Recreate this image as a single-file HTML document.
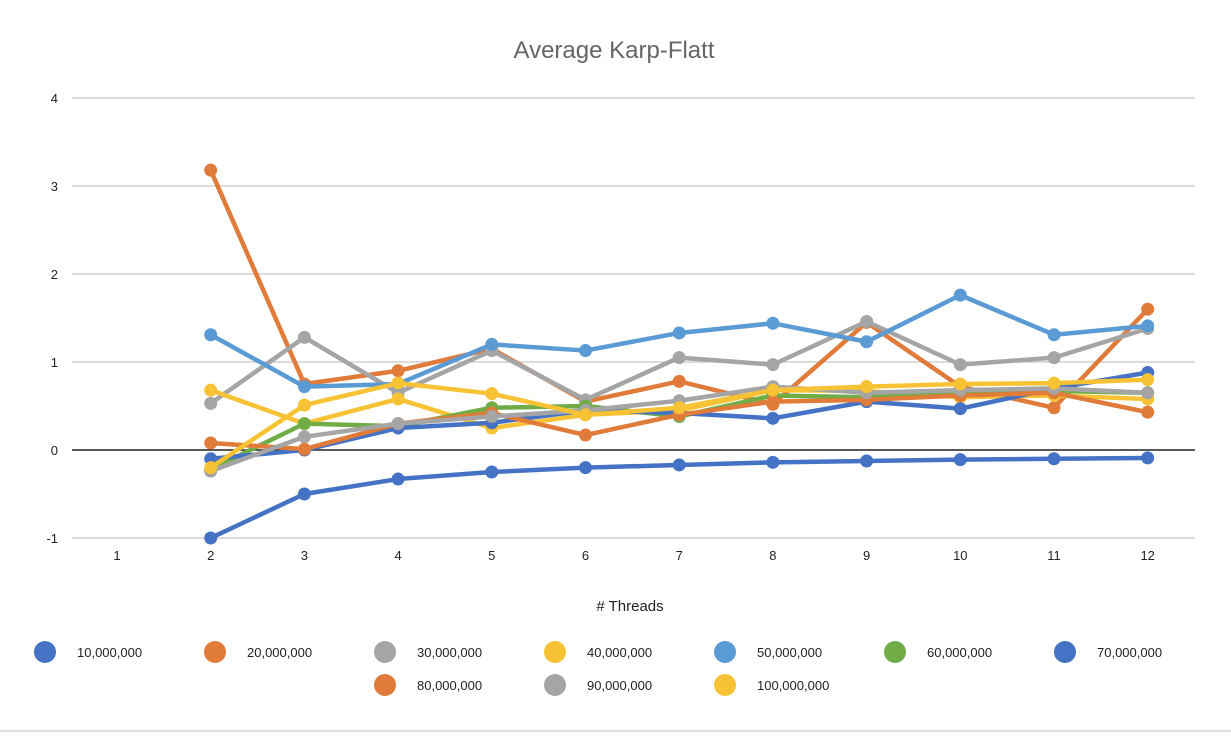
<!DOCTYPE html>
<html><head><meta charset="utf-8"><style>
body{margin:0;background:#fff;width:1231px;height:733px;overflow:hidden;font-family:"Liberation Sans",sans-serif}
</style></head><body>
<svg id="chart" width="1231" height="733">
<line x1="0" y1="731" x2="1231" y2="731" stroke="#bbb"/>
<text x="614" y="58" text-anchor="middle" font-size="24" fill="#666">Average Karp-Flatt</text>
<text x="630" y="611" text-anchor="middle" font-size="15" fill="#222"># Threads</text>
<g id="grid"></g><g id="series"></g><g id="legend"></g>
</svg>
<script>
const categories=[1,2,3,4,5,6,7,8,9,10,11,12];
const yTicks=[-1,0,1,2,3,4];
const names=["10,000,000","20,000,000","30,000,000","40,000,000","50,000,000","60,000,000","70,000,000","80,000,000","90,000,000","100,000,000"];
const colors=["#4472c4","#e07b39","#a5a5a5","#f7c335","#5b9bd5","#70ad47","#4472c4","#e07b39","#a5a5a5","#f7c335"];
const s10=[null,-1,-0.5,-0.33,-0.25,-0.2,-0.17,-0.14,-0.125,-0.11,-0.1,-0.09];
const s20=[null,3.18,0.75,0.9,1.15,0.55,0.78,0.52,1.45,0.72,0.48,1.6];
const s30=[null,0.53,1.28,0.65,1.13,0.57,1.05,0.97,1.46,0.97,1.05,1.38];
const s40=[null,0.68,0.3,0.58,0.25,0.4,0.45,0.68,0.67,0.6,0.62,0.58];
const s50=[null,1.31,0.72,0.75,1.2,1.13,1.33,1.44,1.23,1.76,1.31,1.41];
const s60=[null,-0.22,0.3,0.27,0.48,0.5,0.38,0.62,0.6,0.67,0.67,0.65];
const s70=[null,-0.1,0.0,0.25,0.31,0.45,0.42,0.36,0.55,0.47,0.7,0.88];
const s80=[null,0.08,0.01,0.3,0.42,0.17,0.4,0.55,0.57,0.62,0.65,0.43];
const s90=[null,-0.24,0.15,0.3,0.38,0.45,0.56,0.72,0.65,0.68,0.7,0.65];
const s100=[null,-0.2,0.51,0.76,0.64,0.4,0.48,0.68,0.72,0.75,0.76,0.8];
const allSeries=[s10,s20,s30,s40,s50,s60,s70,s80,s90,s100];
const NS="http://www.w3.org/2000/svg";
const X=i=>117+i*93.7;
const Y=v=>450-v*88;
function mk(t,a,p){const e=document.createElementNS(NS,t);for(const k in a)e.setAttribute(k,a[k]);p.appendChild(e);return e;}
const grid=document.getElementById('grid');
yTicks.forEach(v=>{
 const l=mk('line',{x1:72,x2:1195,y1:Y(v),y2:Y(v),stroke:v===0?'#222':'#c8c8c8','stroke-width':v===0?1.5:1.2},grid);
 
 
 const t=mk('text',{x:58,y:Y(v)+5,'text-anchor':'end','font-size':13,fill:'#222'},grid);t.textContent=v;
 
 
});
categories.forEach((c,i)=>{
 const t=mk('text',{x:X(i),y:560,'text-anchor':'middle','font-size':13,fill:'#222'},grid);t.textContent=c;
 
 
});
const sg=document.getElementById('series');
allSeries.forEach((s,k)=>{
 const g=mk('g',{},sg);
 
 
 const pts=[];s.forEach((v,i)=>{if(v!==null)pts.push(X(i)+','+Y(v));});
 mk('polyline',{points:pts.join(' '),fill:'none',stroke:colors[k],'stroke-width':4.5,'stroke-linejoin':'round'},g);
 s.forEach((v,i)=>{if(v===null)return;
  const c=mk('circle',{cx:X(i),cy:Y(v),r:6.5,fill:colors[k]},g);
  
  
 });
});
const lg=document.getElementById('legend');
names.forEach((n,k)=>{
 const row=k<7?0:1, col=k<7?k:k-5;
 const cx=45+col*170, cy=row?685:652;
 const g=mk('g',{},lg);
 
 
 mk('circle',{cx:cx,cy:cy,r:11,fill:colors[k]},g);
 const t=mk('text',{x:cx+32,y:cy+5,'font-size':13,fill:'#222'},g);t.textContent=n;
});
</script>
</body></html>
